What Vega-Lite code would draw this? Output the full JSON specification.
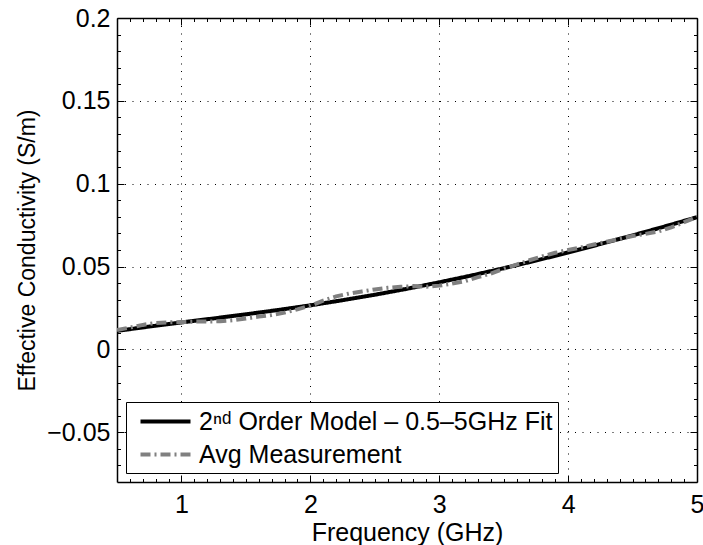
{
  "$schema": "https://vega.github.io/schema/vega-lite/v6.json",
  "width": 580,
  "height": 464,
  "autosize": {"type": "none"},
  "padding": {"left": 117, "top": 18, "right": 6, "bottom": 63},
  "background": "white",
  "config": {
    "view": {"stroke": null},
    "font": "Liberation Sans",
    "axis": {"labelFont": "Liberation Sans", "titleFont": "Liberation Sans", "labelColor": "black", "titleColor": "black", "titleFontWeight": "normal", "domainColor": "black", "tickColor": "black"},
    "legend": {"labelFont": "Liberation Sans"}
  },
  "data": {"values": [
    {"f": 0.5, "s": 0.0112, "series": "model"},
    {"f": 0.75, "s": 0.0138, "series": "model"},
    {"f": 1.0, "s": 0.0163, "series": "model"},
    {"f": 1.25, "s": 0.0187, "series": "model"},
    {"f": 1.5, "s": 0.0212, "series": "model"},
    {"f": 1.75, "s": 0.0238, "series": "model"},
    {"f": 2.0, "s": 0.0266, "series": "model"},
    {"f": 2.25, "s": 0.0297, "series": "model"},
    {"f": 2.5, "s": 0.0330, "series": "model"},
    {"f": 2.75, "s": 0.0366, "series": "model"},
    {"f": 3.0, "s": 0.0405, "series": "model"},
    {"f": 3.25, "s": 0.0446, "series": "model"},
    {"f": 3.5, "s": 0.0490, "series": "model"},
    {"f": 3.75, "s": 0.0536, "series": "model"},
    {"f": 4.0, "s": 0.0585, "series": "model"},
    {"f": 4.25, "s": 0.0636, "series": "model"},
    {"f": 4.5, "s": 0.0688, "series": "model"},
    {"f": 4.75, "s": 0.0742, "series": "model"},
    {"f": 5.0, "s": 0.0798, "series": "model"},
    {"f": 0.5, "s": 0.0117, "series": "meas"},
    {"f": 0.6, "s": 0.0132, "series": "meas"},
    {"f": 0.7, "s": 0.0148, "series": "meas"},
    {"f": 0.8, "s": 0.0160, "series": "meas"},
    {"f": 0.9, "s": 0.0163, "series": "meas"},
    {"f": 1.0, "s": 0.0165, "series": "meas"},
    {"f": 1.1, "s": 0.0168, "series": "meas"},
    {"f": 1.2, "s": 0.0168, "series": "meas"},
    {"f": 1.3, "s": 0.0170, "series": "meas"},
    {"f": 1.4, "s": 0.0176, "series": "meas"},
    {"f": 1.5, "s": 0.0186, "series": "meas"},
    {"f": 1.6, "s": 0.0198, "series": "meas"},
    {"f": 1.7, "s": 0.0208, "series": "meas"},
    {"f": 1.8, "s": 0.0222, "series": "meas"},
    {"f": 1.9, "s": 0.0242, "series": "meas"},
    {"f": 2.0, "s": 0.0264, "series": "meas"},
    {"f": 2.1, "s": 0.0295, "series": "meas"},
    {"f": 2.2, "s": 0.0320, "series": "meas"},
    {"f": 2.3, "s": 0.0337, "series": "meas"},
    {"f": 2.4, "s": 0.0350, "series": "meas"},
    {"f": 2.5, "s": 0.0362, "series": "meas"},
    {"f": 2.6, "s": 0.0372, "series": "meas"},
    {"f": 2.7, "s": 0.0378, "series": "meas"},
    {"f": 2.8, "s": 0.0382, "series": "meas"},
    {"f": 2.9, "s": 0.0378, "series": "meas"},
    {"f": 3.0, "s": 0.0385, "series": "meas"},
    {"f": 3.1, "s": 0.0397, "series": "meas"},
    {"f": 3.2, "s": 0.0412, "series": "meas"},
    {"f": 3.3, "s": 0.0436, "series": "meas"},
    {"f": 3.4, "s": 0.0458, "series": "meas"},
    {"f": 3.5, "s": 0.0487, "series": "meas"},
    {"f": 3.6, "s": 0.0512, "series": "meas"},
    {"f": 3.7, "s": 0.0538, "series": "meas"},
    {"f": 3.8, "s": 0.0562, "series": "meas"},
    {"f": 3.9, "s": 0.0583, "series": "meas"},
    {"f": 4.0, "s": 0.0600, "series": "meas"},
    {"f": 4.1, "s": 0.0615, "series": "meas"},
    {"f": 4.2, "s": 0.0633, "series": "meas"},
    {"f": 4.3, "s": 0.0650, "series": "meas"},
    {"f": 4.4, "s": 0.0667, "series": "meas"},
    {"f": 4.5, "s": 0.0684, "series": "meas"},
    {"f": 4.6, "s": 0.0697, "series": "meas"},
    {"f": 4.7, "s": 0.0712, "series": "meas"},
    {"f": 4.8, "s": 0.0737, "series": "meas"},
    {"f": 4.9, "s": 0.0768, "series": "meas"},
    {"f": 5.0, "s": 0.0800, "series": "meas"}
  ]},
  "resolve": {"axis": {"x": "independent", "y": "independent"}},
  "layer": [
    {
      "mark": {"type": "line", "strokeWidth": 4, "clip": true},
      "encoding": {
        "x": {"field": "f", "type": "quantitative", "scale": {"domain": [0.5, 5], "nice": false, "zero": false},
          "axis": {"orient": "bottom", "values": [1, 2, 3, 4, 5], "ticks": false, "grid": true, "gridDash": [1, 6.5], "gridColor": "black", "gridWidth": 1, "domainWidth": 1.5, "labelFontSize": 25, "labelPadding": 10, "title": "Frequency (GHz)", "titleFontSize": 25, "titlePadding": 3, "labelFlush": false}},
        "y": {"field": "s", "type": "quantitative", "scale": {"domain": [-0.08, 0.2], "nice": false, "zero": false},
          "axis": {"orient": "left", "values": [-0.05, 0, 0.05, 0.1, 0.15, 0.2], "format": "~g", "ticks": false, "grid": true, "gridDash": [1, 6.5], "gridColor": "black", "gridWidth": 1, "domainWidth": 1.5, "labelFontSize": 25, "labelPadding": 7, "title": "Effective Conductivity (S/m)", "titleFontSize": 23, "titlePadding": 7, "labelFlush": false}},
        "color": {"field": "series", "type": "nominal",
          "scale": {"domain": ["model", "meas"], "range": ["black", "#808080"]},
          "legend": {"orient": "bottom-left", "offset": 9, "title": null, "labelExpr": "datum.value === 'model' ? '2ⁿᵈ Order Model – 0.5–5GHz Fit' : 'Avg Measurement'", "labelFontSize": 25, "labelLimit": 0, "labelColor": "black", "symbolType": "M-2,0H2", "symbolSize": 625, "symbolStrokeWidth": 4, "strokeColor": "black", "fillColor": "white", "padding": 5, "rowPadding": 5, "symbolOffset": 20, "labelOffset": 19}},
        "strokeDash": {"field": "series", "type": "nominal",
          "scale": {"domain": ["model", "meas"], "range": [[1, 0], [10, 4, 2, 4]]},
          "legend": null}
      }
    },
    {
      "mark": {"type": "line", "opacity": 0},
      "encoding": {
        "x": {"field": "f", "type": "quantitative", "axis": {"orient": "bottom", "values": [1, 2, 3, 4, 5], "labels": false, "domain": false, "grid": false, "tickSize": -7, "tickWidth": 1, "title": null}},
        "y": {"field": "s", "type": "quantitative", "axis": {"orient": "left", "values": [-0.05, 0, 0.05, 0.1, 0.15, 0.2], "labels": false, "domain": false, "grid": false, "tickSize": -7, "tickWidth": 1, "title": null}}
      }
    },
    {
      "mark": {"type": "line", "opacity": 0},
      "encoding": {
        "x": {"field": "f", "type": "quantitative", "axis": {"orient": "bottom", "values": [0.6, 0.7, 0.8, 0.9, 1.1, 1.2, 1.3, 1.4, 1.5, 1.6, 1.7, 1.8, 1.9, 2.1, 2.2, 2.3, 2.4, 2.5, 2.6, 2.7, 2.8, 2.9, 3.1, 3.2, 3.3, 3.4, 3.5, 3.6, 3.7, 3.8, 3.9, 4.1, 4.2, 4.3, 4.4, 4.5, 4.6, 4.7, 4.8, 4.9], "labels": false, "domain": false, "grid": false, "tickSize": -3.5, "tickWidth": 1, "title": null}},
        "y": {"field": "s", "type": "quantitative", "axis": {"orient": "left", "values": [-0.07, -0.06, -0.04, -0.03, -0.02, -0.01, 0.01, 0.02, 0.03, 0.04, 0.06, 0.07, 0.08, 0.09, 0.11, 0.12, 0.13, 0.14, 0.16, 0.17, 0.18, 0.19], "labels": false, "domain": false, "grid": false, "tickSize": -3.5, "tickWidth": 1, "title": null}}
      }
    },
    {
      "mark": {"type": "line", "opacity": 0},
      "encoding": {
        "x": {"field": "f", "type": "quantitative", "axis": {"orient": "top", "values": [1, 2, 3, 4, 5], "labels": false, "domain": true, "domainWidth": 1.5, "grid": false, "tickSize": -7, "tickWidth": 1, "title": null}},
        "y": {"field": "s", "type": "quantitative", "axis": {"orient": "right", "values": [-0.05, 0, 0.05, 0.1, 0.15, 0.2], "labels": false, "domain": true, "domainWidth": 1.5, "grid": false, "tickSize": -7, "tickWidth": 1, "title": null}}
      }
    },
    {
      "mark": {"type": "line", "opacity": 0},
      "encoding": {
        "x": {"field": "f", "type": "quantitative", "axis": {"orient": "top", "values": [0.6, 0.7, 0.8, 0.9, 1.1, 1.2, 1.3, 1.4, 1.5, 1.6, 1.7, 1.8, 1.9, 2.1, 2.2, 2.3, 2.4, 2.5, 2.6, 2.7, 2.8, 2.9, 3.1, 3.2, 3.3, 3.4, 3.5, 3.6, 3.7, 3.8, 3.9, 4.1, 4.2, 4.3, 4.4, 4.5, 4.6, 4.7, 4.8, 4.9], "labels": false, "domain": false, "grid": false, "tickSize": -3.5, "tickWidth": 1, "title": null}},
        "y": {"field": "s", "type": "quantitative", "axis": {"orient": "right", "values": [-0.07, -0.06, -0.04, -0.03, -0.02, -0.01, 0.01, 0.02, 0.03, 0.04, 0.06, 0.07, 0.08, 0.09, 0.11, 0.12, 0.13, 0.14, 0.16, 0.17, 0.18, 0.19], "labels": false, "domain": false, "grid": false, "tickSize": -3.5, "tickWidth": 1, "title": null}}
      }
    }
  ]
}
